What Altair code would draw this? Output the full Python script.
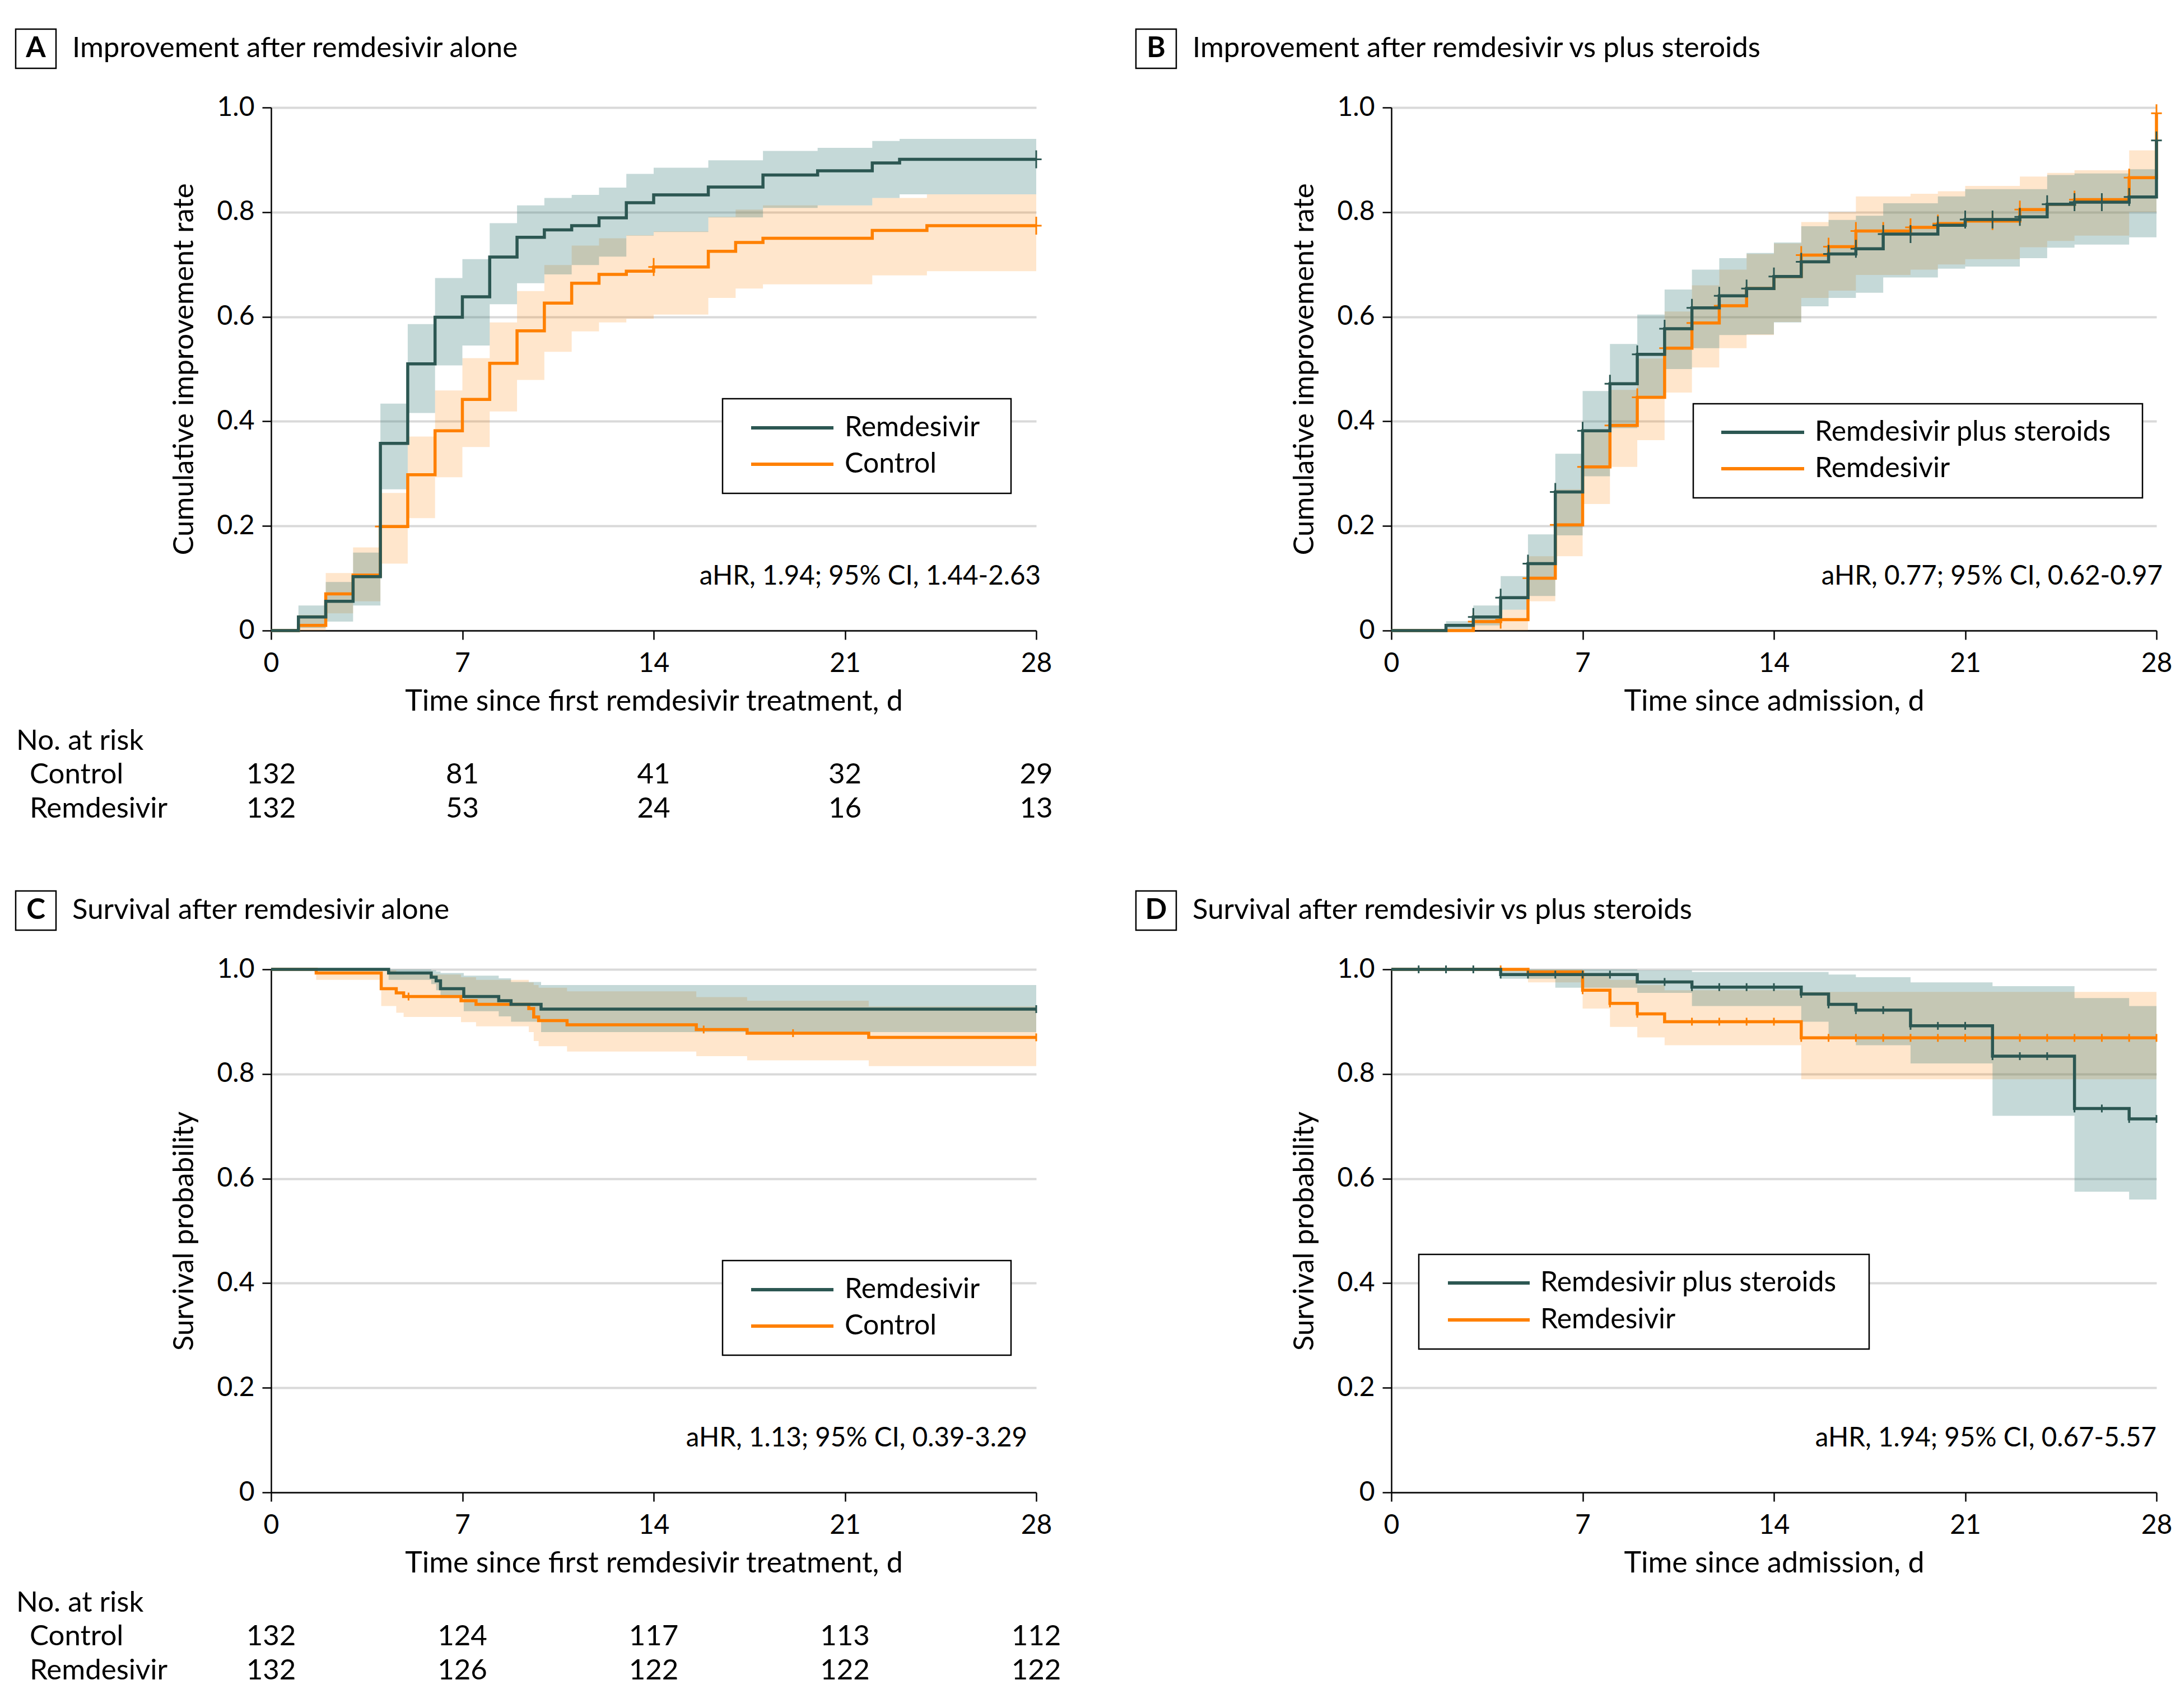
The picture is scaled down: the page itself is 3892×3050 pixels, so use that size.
import altair as alt
import pandas as pd

FONT = "Lato, 'Liberation Sans', Arial, sans-serif"
TEAL = "#2c5752"
ORANGE = "#ff8000"
TEAL_BAND = "#3f817d"
GRID = "#d9d9d9"
W, H = 1366, 934

X_TICKS = [0, 7, 14, 21, 28]
Y_TICKS = [0, 0.2, 0.4, 0.6, 0.8, 1.0]

# ---------------- Panel A: improvement, remdesivir vs control ----------------
A_REM_T = [0, 1, 2, 3, 4, 5, 6, 7, 8, 9, 10, 11, 12, 13, 14, 16, 18, 20, 22, 23, 28]
A_REM_S = [0, 0.026, 0.056, 0.103, 0.358, 0.51, 0.599, 0.638, 0.714, 0.752, 0.766, 0.774, 0.789, 0.818, 0.833, 0.848, 0.871, 0.879, 0.894, 0.901, 0.901]
A_REM_LO = [0, 0.005, 0.017, 0.048, 0.27, 0.416, 0.507, 0.545, 0.624, 0.664, 0.681, 0.699, 0.715, 0.755, 0.762, 0.79, 0.808, 0.813, 0.827, 0.834, 0.834]
A_REM_HI = [0, 0.048, 0.093, 0.149, 0.434, 0.586, 0.674, 0.71, 0.779, 0.813, 0.827, 0.833, 0.847, 0.873, 0.885, 0.899, 0.917, 0.923, 0.936, 0.94, 0.94]
A_REM_CENS = [28]

A_CTL_T = [0, 1, 2, 3, 4, 5, 6, 7, 8, 9, 10, 11, 12, 13, 14, 16, 17, 18, 22, 24, 28]
A_CTL_S = [0, 0.01, 0.07, 0.106, 0.199, 0.298, 0.382, 0.442, 0.511, 0.573, 0.626, 0.664, 0.681, 0.687, 0.695, 0.725, 0.742, 0.75, 0.765, 0.774, 0.774]
A_CTL_LO = [0, 0, 0.033, 0.056, 0.128, 0.215, 0.293, 0.351, 0.419, 0.479, 0.533, 0.572, 0.589, 0.596, 0.604, 0.636, 0.654, 0.662, 0.679, 0.687, 0.687]
A_CTL_HI = [0, 0.03, 0.11, 0.159, 0.263, 0.371, 0.459, 0.521, 0.589, 0.649, 0.699, 0.736, 0.75, 0.756, 0.763, 0.791, 0.805, 0.813, 0.827, 0.834, 0.834]
A_CTL_CENS = [4, 14, 28]

# ---------------- Panel B: improvement, remdesivir plus steroids vs remdesivir ----------------
B_STE_T = [0, 2, 3, 4, 5, 6, 7, 8, 9, 10, 11, 12, 13, 14, 15, 16, 17, 18, 20, 21, 23, 24, 25, 27, 28]
B_STE_S = [0, 0.01, 0.026, 0.063, 0.128, 0.265, 0.382, 0.472, 0.528, 0.577, 0.617, 0.64, 0.654, 0.677, 0.705, 0.72, 0.73, 0.758, 0.775, 0.786, 0.791, 0.815, 0.819, 0.829, 0.937]
B_STE_LO = [0, 0, 0.01, 0.04, 0.066, 0.182, 0.295, 0.387, 0.446, 0.5, 0.54, 0.565, 0.566, 0.589, 0.62, 0.636, 0.646, 0.675, 0.692, 0.696, 0.712, 0.732, 0.738, 0.752, 0.752]
B_STE_HI = [0, 0.018, 0.048, 0.104, 0.184, 0.338, 0.458, 0.548, 0.604, 0.652, 0.69, 0.712, 0.722, 0.742, 0.773, 0.785, 0.793, 0.817, 0.83, 0.844, 0.844, 0.871, 0.874, 0.882, 0.882]
B_STE_CENS = [3, 4, 5, 6, 7, 8, 9, 10, 11, 12, 13, 14, 15, 16, 17, 18, 19, 20, 21, 22, 23, 24, 25, 26, 27, 28]

B_REM_T = [0, 3, 4, 5, 6, 7, 8, 9, 10, 11, 12, 13, 14, 15, 16, 17, 19, 20, 21, 23, 24, 25, 27, 28]
B_REM_S = [0, 0.017, 0.021, 0.1, 0.202, 0.313, 0.392, 0.446, 0.54, 0.588, 0.621, 0.654, 0.677, 0.718, 0.734, 0.764, 0.771, 0.778, 0.783, 0.805, 0.815, 0.824, 0.866, 0.989]
B_REM_LO = [0, 0, 0, 0.056, 0.142, 0.242, 0.313, 0.364, 0.455, 0.503, 0.54, 0.565, 0.59, 0.636, 0.65, 0.68, 0.69, 0.7, 0.71, 0.733, 0.745, 0.755, 0.8, 0.8]
B_REM_HI = [0, 0.023, 0.04, 0.142, 0.27, 0.384, 0.46, 0.52, 0.61, 0.66, 0.69, 0.72, 0.74, 0.781, 0.8, 0.83, 0.835, 0.84, 0.85, 0.868, 0.875, 0.88, 0.918, 0.918]
B_REM_CENS = [3, 4, 5, 6, 7, 8, 9, 10, 11, 12, 15, 16, 17, 18, 19, 20, 22, 23, 25, 27, 28]

# ---------------- Panel C: survival, remdesivir vs control ----------------
C_REM_T = [0, 4.3, 5.86, 6.04, 6.2, 7.05, 8.33, 8.78, 9.88, 28]
C_REM_S = [1, 0.993, 0.985, 0.978, 0.963, 0.948, 0.94, 0.933, 0.924, 0.924]
C_REM_LO = [1, 0.98, 0.972, 0.96, 0.945, 0.92, 0.91, 0.9, 0.88, 0.88]
C_REM_HI = [1, 1.0, 0.998, 0.996, 0.993, 0.988, 0.983, 0.976, 0.97, 0.97]
C_REM_CENS = [28]

C_CTL_T = [0, 1.65, 4.03, 4.58, 4.85, 6.95, 7.5, 9.43, 9.61, 9.79, 10.83, 15.56, 17.42, 21.87, 28]
C_CTL_S = [1, 0.993, 0.963, 0.955, 0.948, 0.94, 0.933, 0.925, 0.909, 0.902, 0.894, 0.885, 0.878, 0.87, 0.87]
C_CTL_LO = [1, 0.98, 0.93, 0.917, 0.909, 0.899, 0.891, 0.88, 0.863, 0.853, 0.843, 0.834, 0.826, 0.815, 0.815]
C_CTL_HI = [1, 1.0, 0.998, 0.995, 0.99, 0.985, 0.98, 0.975, 0.97, 0.965, 0.958, 0.947, 0.94, 0.929, 0.929]
C_CTL_CENS = [5.03, 15.83, 19.1, 28]

# ---------------- Panel D: survival, remdesivir plus steroids vs remdesivir ----------------
D_STE_T = [0, 4, 6, 9, 11, 15, 16, 17, 19, 22, 25, 27, 28]
D_STE_S = [1, 0.99, 0.99, 0.976, 0.966, 0.953, 0.933, 0.922, 0.892, 0.834, 0.734, 0.714, 0.714]
D_STE_LO = [1, 0.982, 0.965, 0.955, 0.93, 0.9, 0.87, 0.855, 0.82, 0.72, 0.575, 0.56, 0.56]
D_STE_HI = [1, 1.0, 1.0, 0.998, 0.995, 0.995, 0.99, 0.985, 0.975, 0.968, 0.945, 0.93, 0.93]
D_STE_CENS = [1, 2, 3, 4, 5, 6, 7, 8, 10, 11, 12, 13, 14, 15, 16, 17, 18, 19, 20, 21, 22, 23, 24, 25, 26, 27, 28]

D_REM_T = [0, 5, 7, 8, 9, 10, 15, 28]
D_REM_S = [1, 0.995, 0.96, 0.935, 0.915, 0.9, 0.869, 0.869]
D_REM_LO = [1, 0.975, 0.925, 0.89, 0.87, 0.855, 0.79, 0.79]
D_REM_HI = [1, 1.0, 0.99, 0.98, 0.97, 0.96, 0.957, 0.957]
D_REM_CENS = [4, 5, 7, 8, 9, 11, 12, 13, 14, 15, 16, 17, 18, 19, 20, 21, 22, 23, 24, 25, 26, 27, 28]

# ---------------- Number at risk ----------------
RISK_DAYS = [0, 7, 14, 21, 28]
A_RISK_CTL = [132, 81, 41, 32, 29]
A_RISK_REM = [132, 53, 24, 16, 13]
C_RISK_CTL = [132, 124, 117, 113, 112]
C_RISK_REM = [132, 126, 122, 122, 122]

DUMMY = pd.DataFrame({"k": [0]})


def step_value(times, vals, day):
    v = vals[0]
    for t, s in zip(times, vals):
        if t <= day + 1e-9:
            v = s
    return v


def text_layer(txt, x, y, size, align="left", weight="normal"):
    return alt.Chart(DUMMY).mark_text(
        text=txt, font=FONT, fontSize=size, fontWeight=weight, align=align,
        baseline="middle", color="black"
    ).encode(x=alt.value(x), y=alt.value(y))


def panel(letter, title, xtitle, ytitle, s1, s2, names, annot, annot_x,
          leg, cshape, csize, risk=None):
    xs = alt.Scale(domain=[0, 28], nice=False, zero=False)
    ys = alt.Scale(domain=[0, 1], nice=False, zero=False)
    xax = alt.Axis(values=X_TICKS, title=xtitle, grid=False, tickSize=16, tickWidth=2.5,
                   tickColor="black", domainColor="black", domainWidth=2.5,
                   labelFont=FONT, labelFontSize=48, labelColor="black", labelPadding=19,
                   labelFlush=False, labelOverlap=False, titleFont=FONT, titleFontSize=52,
                   titleFontWeight="normal", titleColor="black", titleY=126,
                   titleBaseline="middle")
    yax = alt.Axis(values=Y_TICKS,
                   labelExpr="datum.value == 0 ? '0' : format(datum.value, '.1f')",
                   title=ytitle, grid=True, gridColor=GRID, gridWidth=4, tickSize=16,
                   tickWidth=2.5, tickColor="black", domainColor="black", domainWidth=2.5,
                   labelFont=FONT, labelFontSize=48, labelColor="black", labelPadding=14,
                   labelOverlap=False, titleFont=FONT, titleFontSize=51,
                   titleFontWeight="normal", titleColor="black", titleX=-155,
                   titleBaseline="middle")

    def X():
        return alt.X("t:Q", scale=xs, axis=xax)

    def Y(f):
        return alt.Y(f + ":Q", scale=ys, axis=yax)

    layers = []
    # confidence bands (second series underneath)
    for ser, col, op in [(s2, ORANGE, 0.2), (s1, TEAL_BAND, 0.3)]:
        df = pd.DataFrame({"t": ser[0], "lo": ser[2], "hi": ser[3]})
        layers.append(alt.Chart(df).mark_area(interpolate="step-after", color=col, opacity=op)
                      .encode(x=X(), y=Y("lo"), y2="hi:Q"))
    # lines and censor marks
    for ser, col in [(s2, ORANGE), (s1, TEAL)]:
        df = pd.DataFrame({"t": ser[0], "s": ser[1]})
        layers.append(alt.Chart(df).mark_line(interpolate="step-after", color=col, strokeWidth=5.5)
                      .encode(x=X(), y=Y("s")))
        cdf = pd.DataFrame({"t": ser[4], "s": [step_value(ser[0], ser[1], d) for d in ser[4]]})
        layers.append(alt.Chart(cdf).mark_point(shape=cshape, size=csize, filled=False,
                                                stroke=col, strokeWidth=3, opacity=1)
                      .encode(x=X(), y=Y("s")))

    # panel heading: boxed letter + title
    layers.append(alt.Chart(DUMMY).mark_rect(fill="white", stroke="black", strokeWidth=2.5)
                  .encode(x=alt.value(-456), x2=alt.value(-384), y=alt.value(-140), y2=alt.value(-70)))
    layers.append(text_layer(letter, -420, -105, 51, align="center", weight="bold"))
    layers.append(text_layer(title, -355, -105, 51))

    # legend box
    bx0, bx1, by0, by1, lx0, lx1, tx, ry1, ry2 = leg
    layers.append(alt.Chart(DUMMY).mark_rect(fill="white", stroke="black", strokeWidth=2.5)
                  .encode(x=alt.value(bx0), x2=alt.value(bx1), y=alt.value(by0), y2=alt.value(by1)))
    for ry, col, nm in [(ry1, TEAL, names[0]), (ry2, ORANGE, names[1])]:
        layers.append(alt.Chart(DUMMY).mark_rule(color=col, strokeWidth=6)
                      .encode(x=alt.value(lx0), x2=alt.value(lx1), y=alt.value(ry)))
        layers.append(text_layer(nm, tx, ry, 50))

    # hazard ratio annotation
    layers.append(text_layer(annot, annot_x, 838, 47.5, align="right"))

    # number at risk table
    if risk is not None:
        layers.append(text_layer("No. at risk", -455, H + 198, 51))
        for (lab, vals), ry in zip(risk, [H + 258, H + 319]):
            layers.append(text_layer(lab, -431, ry, 51))
            rdf = pd.DataFrame({"t": RISK_DAYS, "n": [str(v) for v in vals]})
            layers.append(alt.Chart(rdf).mark_text(font=FONT, fontSize=51, align="center",
                                                   baseline="middle", color="black")
                          .encode(x=X(), y=alt.value(ry), text="n:N"))

    return alt.layer(*layers).properties(width=W, height=H)


PLUS = "M-0.6,0H0.6M0,-1V1"
BAR = "M0,-1V1"

LEG_AC = (806, 1321, 520, 689, 857, 1004, 1024, 572, 637)
LEG_B = (539, 1341, 529, 697, 589, 737, 756, 580, 645)
LEG_D = (49, 853, 509, 678, 101, 247, 266, 560, 626)

pA = panel("A", "Improvement after remdesivir alone",
           "Time since first remdesivir treatment, d", "Cumulative improvement rate",
           (A_REM_T, A_REM_S, A_REM_LO, A_REM_HI, A_REM_CENS),
           (A_CTL_T, A_CTL_S, A_CTL_LO, A_CTL_HI, A_CTL_CENS),
           ["Remdesivir", "Control"], "aHR, 1.94; 95% CI, 1.44-2.63", 1374,
           LEG_AC, PLUS, 1024,
           risk=[("Control", A_RISK_CTL), ("Remdesivir", A_RISK_REM)])

pB = panel("B", "Improvement after remdesivir vs plus steroids",
           "Time since admission, d", "Cumulative improvement rate",
           (B_STE_T, B_STE_S, B_STE_LO, B_STE_HI, B_STE_CENS),
           (B_REM_T, B_REM_S, B_REM_LO, B_REM_HI, B_REM_CENS),
           ["Remdesivir plus steroids", "Remdesivir"], "aHR, 0.77; 95% CI, 0.62-0.97", 1377,
           LEG_B, PLUS, 1024)

pC = panel("C", "Survival after remdesivir alone",
           "Time since first remdesivir treatment, d", "Survival probability",
           (C_REM_T, C_REM_S, C_REM_LO, C_REM_HI, C_REM_CENS),
           (C_CTL_T, C_CTL_S, C_CTL_LO, C_CTL_HI, C_CTL_CENS),
           ["Remdesivir", "Control"], "aHR, 1.13; 95% CI, 0.39-3.29", 1350,
           LEG_AC, BAR, 196,
           risk=[("Control", C_RISK_CTL), ("Remdesivir", C_RISK_REM)])

pD = panel("D", "Survival after remdesivir vs plus steroids",
           "Time since admission, d", "Survival probability",
           (D_STE_T, D_STE_S, D_STE_LO, D_STE_HI, D_STE_CENS),
           (D_REM_T, D_REM_S, D_REM_LO, D_REM_HI, D_REM_CENS),
           ["Remdesivir plus steroids", "Remdesivir"], "aHR, 1.94; 95% CI, 0.67-5.57", 1366,
           LEG_D, BAR, 196)

chart = alt.concat(
    pA, pB, pC, pD, columns=2,
    spacing={"row": 605, "column": 634}, bounds="flush",
).properties(
    padding={"left": 18, "top": 42, "right": 0, "bottom": 0},
    background="white",
).configure_view(stroke=None)

chart.save("out.html", embed_options={"renderer": "svg", "actions": False})
